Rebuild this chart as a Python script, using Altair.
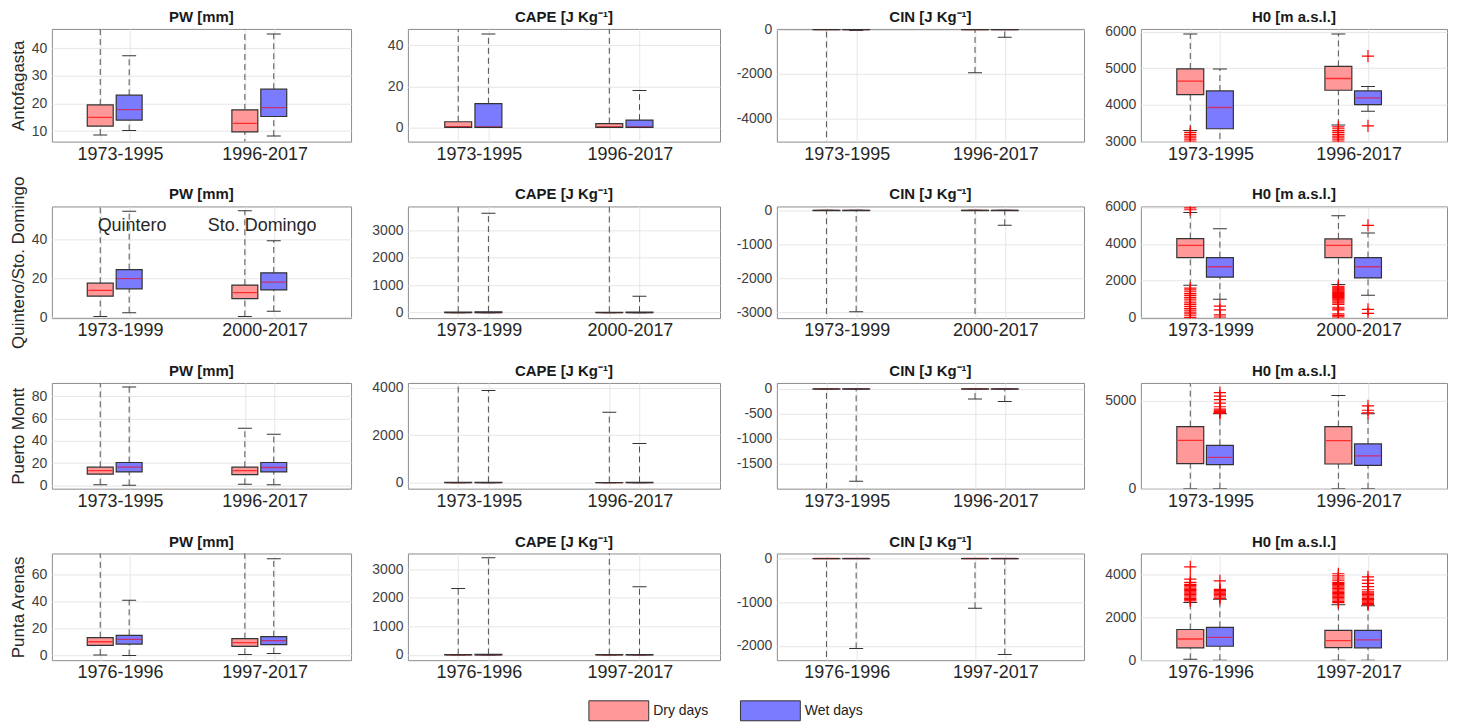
import altair as alt
import pandas as pd

# ---------------- data ----------------
stations = ["Antofagasta", "Quintero/Sto. Domingo", "Puerto Montt", "Punta Arenas"]
variables = ["PW [mm]", "CAPE [J Kg⁻¹]", "CIN [J Kg⁻¹]", "H0 [m a.s.l.]"]
periods = [["1973-1995", "1996-2017"], ["1973-1999", "2000-2017"],
           ["1973-1995", "1996-2017"], ["1976-1996", "1997-2017"]]
day_types = ["Dry days", "Wet days"]

# box order: dry P1, wet P1, dry P2, wet P2 ; [lower whisker, q1, median, q3, upper whisker]
pw_stats = [
    [[8.6, 11.8, 15.0, 19.5, 60], [10.2, 14.0, 17.8, 23.0, 37.3], [5.0, 9.7, 12.8, 17.7, 60], [8.2, 15.3, 18.5, 25.2, 45.2]],
    [[0.3, 10.8, 13.8, 17.5, 70], [2.3, 14.6, 19.8, 24.5, 54.5], [0.3, 9.5, 12.6, 16.5, 54.8], [3.0, 14.0, 18.0, 22.8, 39.3]],
    [[0.6, 10.0, 13.3, 16.3, 110], [0.0, 12.0, 16.3, 20.5, 88.4], [0.9, 9.7, 13.3, 16.3, 51.3], [0.6, 12.0, 16.0, 20.5, 46.0]],
    [[0.3, 7.5, 10.2, 13.2, 90], [0.0, 8.5, 12.0, 15.0, 41.0], [0.8, 6.8, 9.5, 12.5, 90], [1.5, 8.0, 11.0, 14.0, 71.8]],
]
cape_stats = [
    [[0, 0, 0.3, 2.7, 80], [0, 0, 0.2, 11.5, 45.5], [0, 0, 0.2, 1.8, 80], [0, 0, 0.2, 3.5, 18]],
    [[0, 0, 0, 20, 6000], [0, 0, 0, 30, 3620], [0, 0, 0, 15, 6000], [0, 0, 0, 20, 600]],
    [[0, 0, 0, 15, 6000], [0, 0, 0, 20, 3880], [0, 0, 0, 10, 2970], [0, 0, 0, 15, 1650]],
    [[0, 0, 0, 10, 2320], [0, 0, 0, 15, 3400], [0, 0, 0, 10, 5000], [0, 0, 0, 10, 2380]],
]
cin_stats = [
    [[-8000, -5, 0, 0, 0], [-40, -3, 0, 0, 0], [-1950, -5, 0, 0, 0], [-350, -5, 0, 0, 0]],
    [[-6000, -10, 0, 0, 0], [-2990, -10, 0, 0, 0], [-6000, -10, 0, 0, 0], [-440, -10, 0, 0, 0]],
    [[-4000, -5, 0, 0, 0], [-1850, -5, 0, 0, 0], [-200, -5, 0, 0, 0], [-250, -5, 0, 0, 0]],
    [[-5000, -5, 0, 0, 0], [-2060, -5, 0, 0, 0], [-1140, -5, 0, 0, 0], [-2200, -5, 0, 0, 0]],
]
h0_stats = [
    [[3300, 4280, 4650, 4980, 5930], [2800, 3350, 3930, 4380, 4980], [3450, 4400, 4720, 5050, 5930], [3830, 4010, 4190, 4380, 4500]],
    [[1750, 3256, 3915, 4288, 5700], [1000, 2190, 2758, 3256, 4822], [1800, 3256, 3915, 4270, 5530], [1210, 2150, 2758, 3256, 4590]],
    [[0, 1420, 2746, 3523, 7000], [0, 1364, 1780, 2462, 4250], [0, 1400, 2727, 3523, 5284], [0, 1326, 1856, 2538, 4250]],
    [[40, 578, 993, 1437, 2700], [0, 652, 1067, 1541, 2850], [0, 593, 919, 1393, 2600], [0, 578, 948, 1393, 2550]],
]
h0_outliers = [
    [[3000, 3050, 3100, 3150, 3200, 3250],
     [],
     [3000, 3050, 3100, 3150, 3200, 3250, 3300, 3350, 3400],
     [5330, 3430]],
    [[5850, 5950, 0, 100, 200, 300, 400, 500, 600, 700, 800, 900, 1000, 1100, 1200, 1300, 1400, 1500, 1600],
     [620, 420, 150, 30],
     [1700, 1650, 1600, 1550, 1500, 1450, 1400, 1350, 1300, 1250, 1200, 1150, 1100, 1050, 1000, 950,
      860, 800, 720, 560, 480, 420, 200, 120, 40],
     [5000, 450, 230]],
    [[],
     [4280, 4320, 4360, 4400, 4450, 4520, 4650, 4850, 5050, 5250, 5450],
     [],
     [4300, 4450, 4700]],
    [[2780, 2840, 2900, 2960, 3020, 3080, 3140, 3200, 3260, 3320, 3380, 3440, 3500, 3550, 3650, 3800, 4370],
     [2900, 2960, 3020, 3080, 3140, 3200, 3260, 3320, 3720],
     [2700, 2760, 2820, 2880, 2940, 3000, 3060, 3120, 3180, 3240, 3300, 3360, 3420, 3480, 3540, 3600,
      3650, 3750, 3850, 3950, 4050],
     [2600, 2660, 2720, 2780, 2840, 2900, 2960, 3020, 3080, 3140, 3200, 3300, 3450, 3600, 3750, 3900]],
]
annot_text = ["Quintero", "Sto. Domingo"]
annot_value = [46.9, 46.9]

y_domains = [
    [[6.2, 47], [-0.5, 57], [-3, 92], [-3.5, 75.8]],
    [[-7, 48], [-200, 3870], [-250, 4200], [-185, 3545]],
    [[-5050, 30], [-3180, 115], [-2000, 120], [-2330, 115]],
    [[3000, 6070], [-30, 6030], [0, 6000], [0, 5000]],
]
y_ticks = [
    [[10, 20, 30, 40], [0, 20, 40], [0, 20, 40, 60, 80], [0, 20, 40, 60]],
    [[0, 20, 40], [0, 1000, 2000, 3000], [0, 2000, 4000], [0, 1000, 2000, 3000]],
    [[-4000, -2000, 0], [-3000, -2000, -1000, 0], [-1500, -1000, -500, 0], [-2000, -1000, 0]],
    [[3000, 4000, 5000, 6000], [0, 2000, 4000, 6000], [0, 5000], [0, 2000, 4000]],
]

# ---------------- layout ----------------
SLOTS = [1.5, 2.5, 6.5, 7.5]
LABEL_POS = [2.2, 7.2]
ANNOT_POS = [2.6, 7.1]
WIDTHS = [300, 313, 308, 307]
HEIGHTS = [113, 112, 106, 107]
FONT = "Liberation Sans"

all_stats = [pw_stats, cape_stats, cin_stats, h0_stats]

box_colors = ["#FF9999", "#7B7BFF"]
median_colors = ["#FF2E2E", "#C8306E"]


def panel(si, vi):
    stats = all_stats[vi][si]
    df = pd.DataFrame([
        dict(group=day_types[bi % 2], pos=SLOTS[bi], lo=s[0], q1=s[1], med=s[2], q3=s[3], hi=s[4])
        for bi, s in enumerate(stats)
    ])
    w, h = WIDTHS[vi], HEIGHTS[si]
    bw = round(w * 0.087)
    xs = alt.Scale(domain=[0, 10], nice=False, zero=False)
    ys = alt.Scale(domain=y_domains[vi][si], nice=False, zero=False)
    xax = alt.Axis(values=SLOTS, labels=False, ticks=False, domain=False, grid=True, title=None)
    yax = alt.Axis(values=y_ticks[vi][si], grid=True, domain=False, ticks=False,
                   labelExpr="'' + datum.value",
                   title=stations[si] if vi == 0 else None)

    def X(f="pos"):
        return alt.X(f"{f}:Q", scale=xs, axis=xax)

    def Y(f):
        return alt.Y(f"{f}:Q", scale=ys, axis=yax)

    base = alt.Chart(df)
    dash = dict(strokeDash=[6, 4], color="#505050", strokeWidth=1, clip=True)
    wh_hi = base.mark_rule(**dash).encode(x=X(), y=Y("q3"), y2="hi:Q")
    wh_lo = base.mark_rule(**dash).encode(x=X(), y=Y("lo"), y2="q1:Q")
    cap_kw = dict(orient="horizontal", size=14, thickness=1, color="#333333", clip=True, opacity=1)
    cap_hi = base.mark_tick(**cap_kw).encode(x=X(), y=Y("hi"))
    cap_lo = base.mark_tick(**cap_kw).encode(x=X(), y=Y("lo"))
    box = base.mark_bar(size=bw, orient="vertical", strokeWidth=0,
                        clip=True, opacity=1).encode(
        x=X(), y=Y("q1"), y2="q3:Q",
        color=alt.Color("group:N", scale=alt.Scale(domain=day_types, range=box_colors),
                        legend=alt.Legend(orient="none", legendX=558, legendY=673,
                                          direction="horizontal", title=None,
                                          symbolType="M-3,-1H3V1H-3Z", symbolSize=400,
                                          symbolStrokeColor="#333333", symbolStrokeWidth=1,
                                          symbolOpacity=1,
                                          labelFont=FONT, labelFontSize=14,
                                          labelColor="#222222", labelOffset=24,
                                          columnPadding=29)))
    med = base.mark_tick(orient="horizontal", size=bw - 2, thickness=1.3, clip=True, opacity=1).encode(
        x=X(), y=Y("med"),
        fill=alt.Fill("group:N", scale=alt.Scale(domain=day_types, range=median_colors), legend=None))
    outline = base.mark_bar(size=bw, orient="vertical", filled=False, stroke="#333333",
                            strokeWidth=1.2, clip=True, opacity=1, fill=None).encode(
        x=X(), y=Y("q1"), y2="q3:Q")

    layers = [wh_hi, wh_lo, cap_hi, cap_lo, box, med, outline]

    if vi == 3:
        orows = [dict(pos=SLOTS[bi], val=v) for bi, lst in enumerate(h0_outliers[si]) for v in lst]
        if orows:
            odf = pd.DataFrame(orows)
            outl = alt.Chart(odf).mark_point(shape="M-1,0H1M0,-1V1", filled=False, stroke="#FF0000",
                                             strokeWidth=1.2, size=150, opacity=1, clip=True).encode(
                x=X(), y=Y("val"))
            layers.append(outl)

    if vi == 0 and si == 1:
        adf = pd.DataFrame(dict(txt=annot_text, pos=ANNOT_POS, val=annot_value))
        ann = alt.Chart(adf).mark_text(font=FONT, fontSize=18, color="#262626").encode(
            x=X(), y=Y("val"), text="txt:N")
        layers.append(ann)

    ldf = pd.DataFrame(dict(lab=periods[si], pos=LABEL_POS))
    labs = alt.Chart(ldf).mark_text(font=FONT, fontSize=18, color="#262626", baseline="middle").encode(
        x=X(), y=alt.value(h + 13), text="lab:N")
    layers.append(labs)

    tdf = pd.DataFrame(dict(t=[variables[vi]]))
    ttl = alt.Chart(tdf).mark_text(font=FONT, fontSize=15, fontWeight="bold", color="#1a1a1a",
                                   baseline="alphabetic", align="center").encode(
        x=alt.value(w / 2), y=alt.value(-7), text="t:N")
    layers.append(ttl)

    return alt.layer(*layers).properties(width=w, height=h)


panels = [panel(si, vi) for si in range(4) for vi in range(4)]
chart = alt.concat(*panels, columns=4, spacing={"row": 65, "column": 57},
                   bounds="flush", align="each").properties(
    padding={"left": 0, "top": 0, "right": 5, "bottom": 0}
).configure_view(
    stroke="#8c8c8c", strokeWidth=1
).configure_axis(
    gridColor="#e6e6e6", gridWidth=1,
    labelFont=FONT, labelFontSize=14, labelColor="#404040", labelPadding=5,
    titleFont=FONT, titleFontSize=17, titleFontWeight="normal", titleColor="#262626", titlePadding=4
)

chart.save("out.html", embed_options={"renderer": "svg", "actions": False})
